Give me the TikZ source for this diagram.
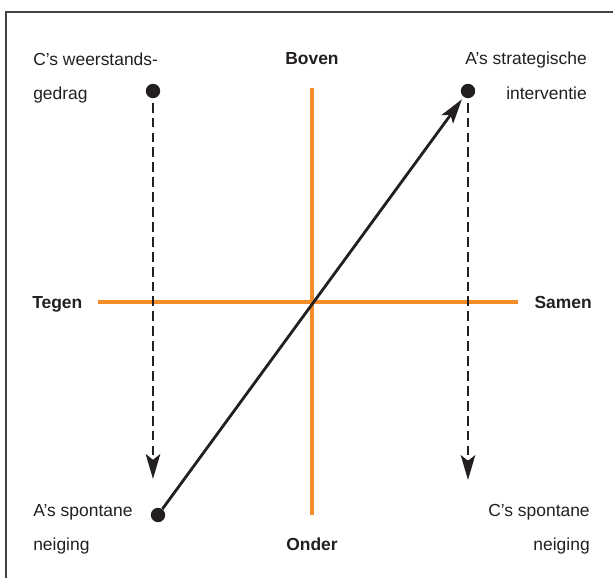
\documentclass[tikz,border=0pt]{standalone}
\usepackage{fontspec}
\setmainfont{Liberation Sans}
\usetikzlibrary{arrows.meta}
\definecolor{axisorange}{RGB}{245,140,40}
\definecolor{inkgray}{RGB}{35,31,32}
\begin{document}
\begin{tikzpicture}[x = 0.025cm, y = -0.025cm,
  every node/.style = {inner sep = 0, text = inkgray, font = \fontsize{12.4}{14}\selectfont},
  pole/.style = {font = \fontsize{12.4}{14}\selectfont\bfseries},
  axis/.style = {line width = 2.4pt, axisorange},
  dot/.style = {circle, fill = inkgray, minimum size = 0.36cm},
  move/.style = {line width = 2pt, inkgray, -{Stealth[length = 0.62cm, width = 0.36cm, inset = 0.14cm]}}]
\useasboundingbox (0,0) rectangle (613,578);
\draw[line width = 1.4pt, inkgray!85] (613,12) -- (6,12) -- (6,578);
% axes
\coordinate (top) at (312,88);
\coordinate (bottom) at (312,515);
\coordinate (left) at (98,302);
\coordinate (right) at (518,302);
\draw[axis] (top) -- (bottom);
\draw[axis] (left) -- (right);
\node[pole, anchor = base] at (312,65) (boven) {Boven};
\node[pole, anchor = base] at (312,550) (onder) {Onder};
\node[pole, anchor = base west] at (32,308) (tegen) {Tegen};
\node[pole, anchor = base east] at (592,308) (samen) {Samen};
% labels
\node[anchor = base west] at (33,66) (c1) {C’s weerstands-};
\node[anchor = base west] at (33,100) (c2) {gedrag};
\node[anchor = base east] at (587,65) (a1) {A’s strategische};
\node[anchor = base east] at (587,100) (a2) {interventie};
\node[anchor = base west] at (33,516) (a3) {A’s spontane};
\node[anchor = base west] at (33,550) (a4) {neiging};
\node[anchor = base east] at (590,516) (c3) {C’s spontane};
\node[anchor = base east] at (590,550) (c4) {neiging};
% moves
\node[dot] at (153,91) (cres) {};
\node[dot] at (468,91) (astrat) {};
\node[dot] at (158,515) (aspon) {};
\coordinate (cend) at (153,479);
\coordinate (cspon) at (468,480);
\draw[move, dash pattern = on 7pt off 3.6pt, shorten <= 3pt] (cres) -- (cend);
\draw[move, dash pattern = on 7pt off 3.6pt, shorten <= 3pt] (astrat) -- (cspon);
\draw[move, shorten > = 2pt] (aspon) -- (astrat);
\end{tikzpicture}
\end{document}
